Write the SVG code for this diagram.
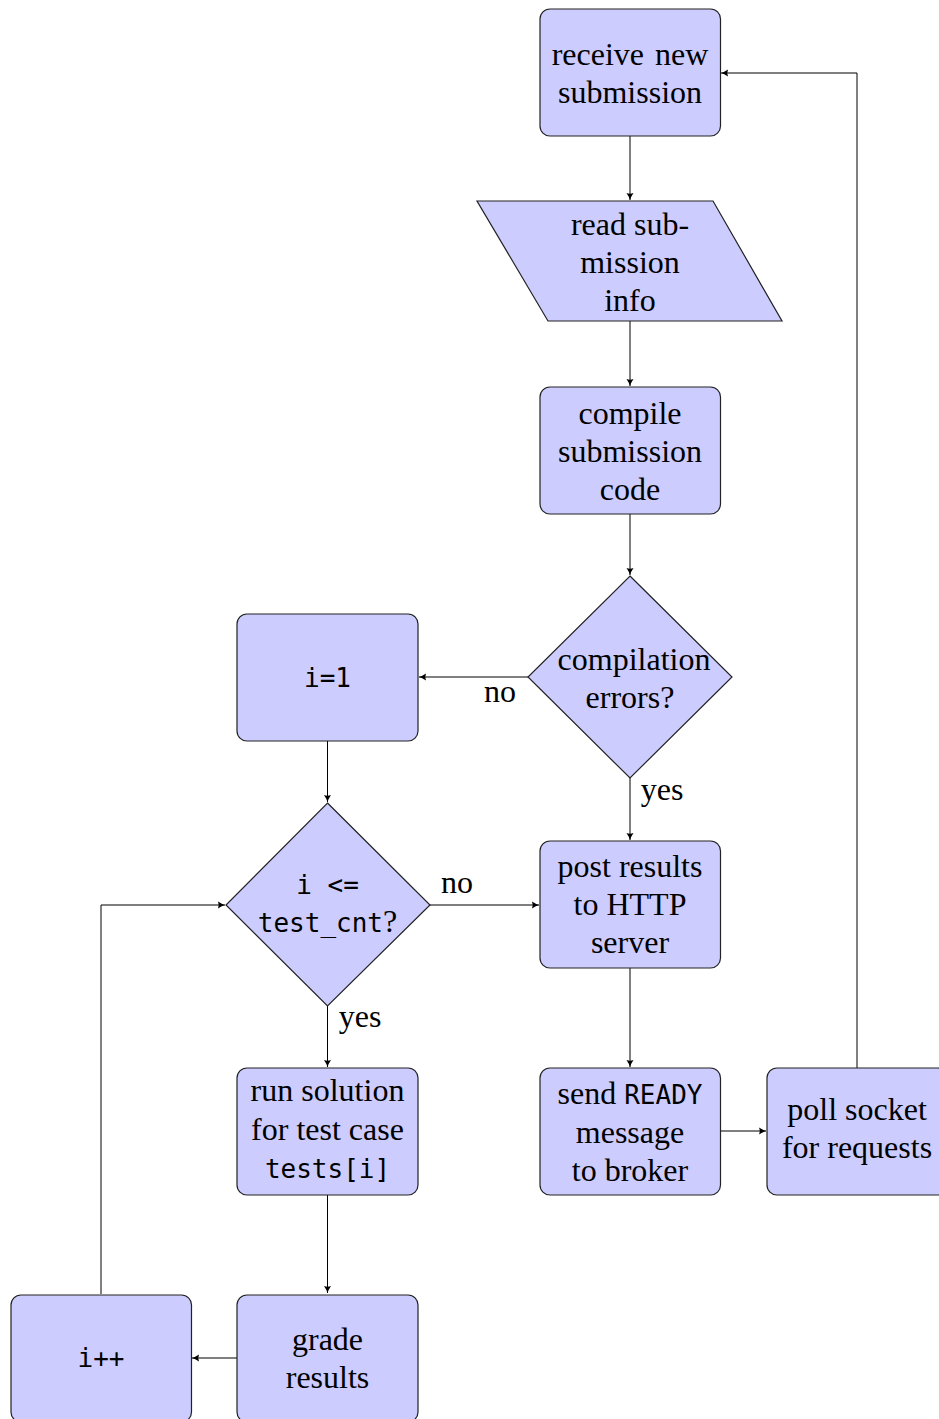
<svg xmlns="http://www.w3.org/2000/svg" width="939" height="1419" viewBox="0 0 939 1419">
  <style>
    .node { fill: #ccccff; stroke: #222; stroke-width: 1.2; }
    .txt { font-family: "Liberation Serif", "Times New Roman", serif; font-size: 32px; fill: #000; text-anchor: middle; }
    .mono { font-family: "DejaVu Sans Mono", "Liberation Mono", monospace; font-size: 26px; }
    .edge { fill: none; stroke: #000; stroke-width: 1; marker-end: url(#tip); }
  </style>
  <defs>
    <marker id="tip" markerUnits="userSpaceOnUse" markerWidth="12" markerHeight="10" refX="9" refY="5" orient="auto" overflow="visible">
      <path d="M2,1.5 Q6,4.2 9,5 Q6,5.8 2,8.5 Q3.5,5 2,1.5 Z" fill="#000"/>
    </marker>
  </defs>

  <!-- connectors -->
  <g id="connectors">
    <path class="edge" d="M630,136 V200"/>
    <path class="edge" d="M630,321 V386"/>
    <path class="edge" d="M630,514 V575"/>
    <path class="edge" d="M528,677 H419"/>
    <path class="edge" d="M630,778 V840"/>
    <path class="edge" d="M327.5,741 V802"/>
    <path class="edge" d="M430,905 H539"/>
    <path class="edge" d="M327.5,1006 V1067"/>
    <path class="edge" d="M327.5,1195 V1293"/>
    <path class="edge" d="M237,1358 H192"/>
    <path class="edge" d="M101,1294 V905 H225"/>
    <path class="edge" d="M630,968 V1067"/>
    <path class="edge" d="M720,1131 H766"/>
    <path class="edge" d="M857,1068 V73 H721"/>
    <text class="txt" x="500" y="702">no</text>
    <text class="txt" x="662" y="800">yes</text>
    <text class="txt" x="457" y="893">no</text>
    <text class="txt" x="360" y="1027">yes</text>
  </g>

  <g id="receive">
    <rect class="node" x="540" y="9" width="180.5" height="127" rx="10"/>
    <text class="txt" x="630" y="65" word-spacing="3">receive new</text>
    <text class="txt" x="630" y="103">submission</text>
  </g>

  <g id="read-info">
    <polygon class="node" points="477,201 713,201 782,321 548,321"/>
    <text class="txt" x="630" y="235">read sub-</text>
    <text class="txt" x="630" y="273">mission</text>
    <text class="txt" x="630" y="311">info</text>
  </g>

  <g id="compile">
    <rect class="node" x="540" y="387" width="180.5" height="127" rx="10"/>
    <text class="txt" x="630" y="424">compile</text>
    <text class="txt" x="630" y="462">submission</text>
    <text class="txt" x="630" y="500">code</text>
  </g>

  <g id="compile-errors">
    <polygon class="node" points="630,576 732,677 630,778 528,677"/>
    <text class="txt" x="634" y="670">compilation</text>
    <text class="txt" x="630" y="708">errors?</text>
  </g>

  <g id="init">
    <rect class="node" x="237" y="614" width="181" height="127" rx="10"/>
    <text class="txt mono" x="327.5" y="687">i=1</text>
  </g>

  <g id="loop-check">
    <polygon class="node" points="327.5,803 430,905 327.5,1006 226,905"/>
    <text class="txt mono" x="327.5" y="894">i &lt;=</text>
    <text class="txt" x="327.5" y="932"><tspan class="mono">test_cnt</tspan>?</text>
  </g>

  <g id="post-results">
    <rect class="node" x="540" y="841" width="180.5" height="127" rx="10"/>
    <text class="txt" x="630" y="877">post results</text>
    <text class="txt" x="630" y="915">to HTTP</text>
    <text class="txt" x="630" y="953">server</text>
  </g>

  <g id="run-solution">
    <rect class="node" x="237" y="1068" width="181" height="127" rx="10"/>
    <text class="txt" x="327.5" y="1101">run solution</text>
    <text class="txt" x="327.5" y="1140">for test case</text>
    <text class="txt mono" x="327.5" y="1178">tests[i]</text>
  </g>

  <g id="send-ready">
    <rect class="node" x="540" y="1068" width="180.5" height="127" rx="10"/>
    <text class="txt" x="630" y="1104">send <tspan class="mono" font-size="24">READY</tspan></text>
    <text class="txt" x="630" y="1143">message</text>
    <text class="txt" x="630" y="1181">to broker</text>
  </g>

  <g id="poll-socket">
    <rect class="node" x="767" y="1068" width="181" height="127" rx="10"/>
    <text class="txt" x="857" y="1120">poll socket</text>
    <text class="txt" x="857" y="1158">for requests</text>
  </g>

  <g id="grade">
    <rect class="node" x="237" y="1295" width="181" height="127" rx="10"/>
    <text class="txt" x="327.5" y="1350">grade</text>
    <text class="txt" x="327.5" y="1388">results</text>
  </g>

  <g id="increment">
    <rect class="node" x="11" y="1295" width="180.5" height="127" rx="10"/>
    <text class="txt mono" x="101" y="1367">i++</text>
  </g>
</svg>
